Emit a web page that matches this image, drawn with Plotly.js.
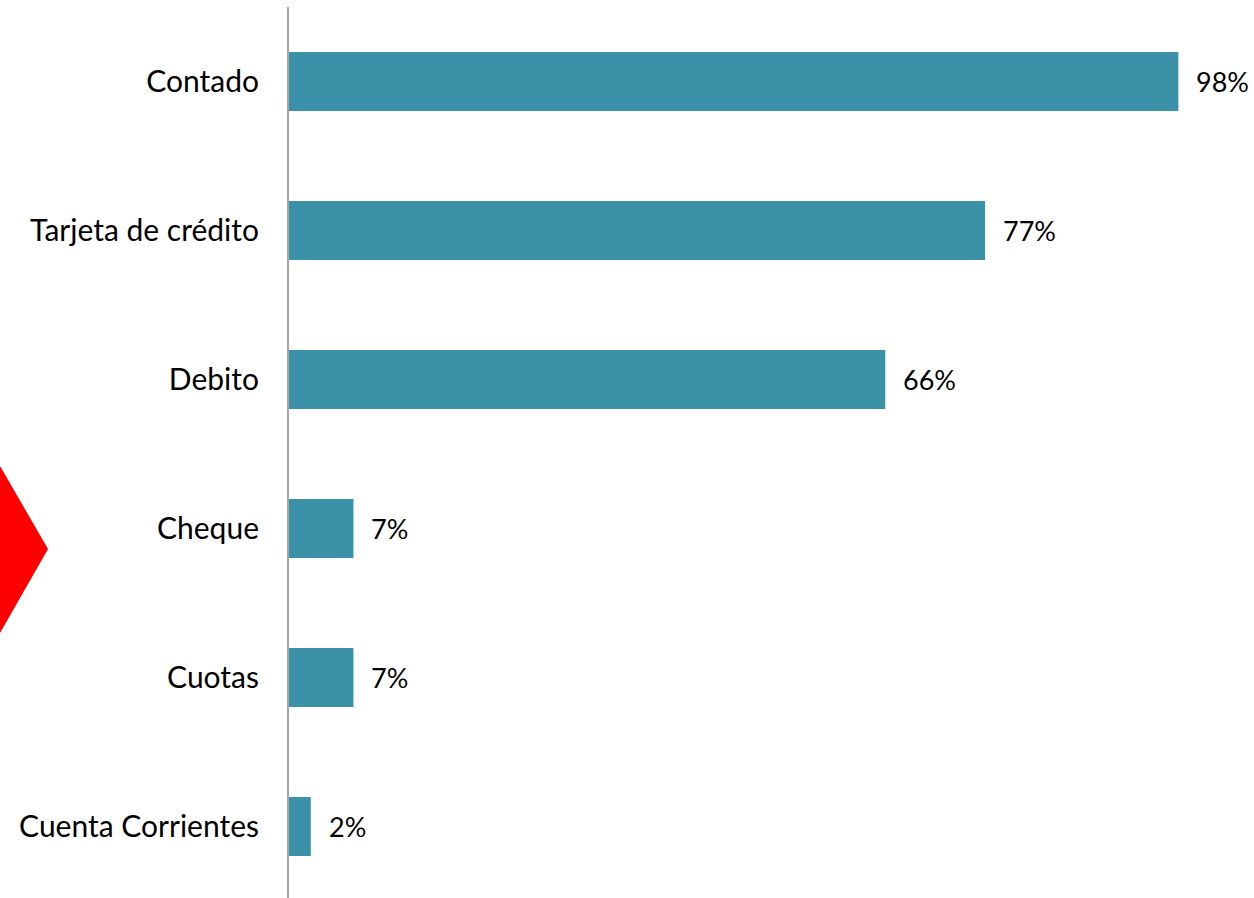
<!DOCTYPE html>
<html>
<head>
<meta charset="utf-8">
<script src="https://cdn.plot.ly/plotly-3.0.1.min.js"></script>
<style>html,body{margin:0;padding:0;background:#fff;}#chart{width:1254px;height:898px;}</style>
</head>
<body>
<div id="chart"></div>
<script>
const categories = ["Contado", "Tarjeta de crédito", "Debito", "Cheque", "Cuotas", "Cuenta Corrientes"];
const values = [98, 76.7, 65.7, 7.1, 7.1, 2.4];
const valueLabels = ["98%", "77%", "66%", "7%", "7%", "2%"];

const FONT = "Lato, 'Open Sans', sans-serif";

const trace = {
  type: "bar",
  orientation: "h",
  y: categories,
  x: values,
  marker: {color: "#3A91A8"},
  hoverinfo: "skip"
};

const annotations = categories.map((c, i) => ({
  x: values[i], y: c, xref: "x", yref: "y",
  text: valueLabels[i], showarrow: false,
  xanchor: "left", yanchor: "middle", xshift: 16,
  font: {family: FONT, size: 27, color: "#000"}
}));

const ML = 289, MR = 13, MT = 7, MB = 0;
const layout = {
  width: 1254, height: 898,
  margin: {l: ML, r: MR, t: MT, b: MB},
  paper_bgcolor: "#fff", plot_bgcolor: "#fff",
  showlegend: false,
  bargap: 0.604,
  xaxis: {range: [0, 104.9], visible: false, fixedrange: true},
  yaxis: {
    type: "category",
    range: [5.48, -0.5],
    showline: true, linecolor: "#A6A6A6", linewidth: 2,
    showgrid: false, zeroline: false, ticks: "",
    ticklabelstandoff: 22,
    tickfont: {family: FONT, size: 30, color: "#000"}
  },
  annotations: annotations
};

// Red decorative arrow at the left edge, placed in pixel space via paper coords
(function () {
  const plotW = 1254 - ML - MR, plotH = 898 - MT - MB;
  const px = x => (x - ML) / plotW;
  const py = y => 1 - (y - MT) / plotH;
  layout.shapes = [{
    type: "path", xref: "paper", yref: "paper", layer: "above",
    path: `M ${px(-2)} ${py(466)} L ${px(0)} ${py(466)} L ${px(48)} ${py(549)} L ${px(0)} ${py(633)} L ${px(-2)} ${py(633)} Z`,
    fillcolor: "#FF0000", line: {width: 0}
  }];
})();

Plotly.newPlot("chart", [trace], layout, {displayModeBar: false, staticPlot: true});
</script>
</body>
</html>
